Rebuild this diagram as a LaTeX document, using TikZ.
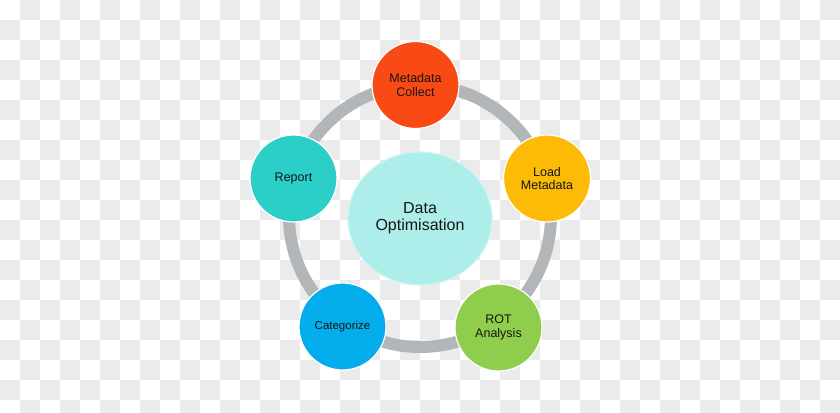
\documentclass[tikz,border=0pt]{standalone}
\usepackage{fontspec}
\setmainfont{Liberation Sans}
\usetikzlibrary{shapes.geometric}
\definecolor{chk}{HTML}{EBEBEB}
\definecolor{ringgray}{HTML}{B3B6B9}
\definecolor{cOrange}{HTML}{F94A16}
\definecolor{cAmber}{HTML}{FDBB08}
\definecolor{cGreen}{HTML}{8FCD4C}
\definecolor{cBlue}{HTML}{04ADEC}
\definecolor{cTeal}{HTML}{2BCFC8}
\definecolor{cCenter}{HTML}{ADEEEA}
\definecolor{txt}{HTML}{151515}
\tikzset{
  stepcircle/.style={circle, minimum size=87pt, inner sep=0pt, draw=white, line width=1.2pt,
    align=center, text=txt, font=\fontsize{12.5}{13.5}\selectfont},
  hubellipse/.style={ellipse, minimum width=144pt, minimum height=133pt, inner sep=0pt,
    fill=cCenter, draw=cCenter!60!white, line width=1.2pt, align=center, text=txt,
    font=\fontsize{16}{17}\selectfont},
  ringline/.style={draw=ringgray, line width=12pt}
}
\begin{document}
\begin{tikzpicture}[x=1pt,y=-1pt]
\useasboundingbox (0,0) rectangle (840,412);
\begin{scope}
\clip (0,0) rectangle (840,412);
\fill[white] (0,0) rectangle (840,412);
\foreach \j in {0,...,20}{
  \pgfmathtruncatemacro\s{mod(\j+1,2)}
  \foreach \k in {0,...,20}{
    \pgfmathtruncatemacro\i{2*\k+\s}
    \fill[chk] (20*\i,20*\j) rectangle ++(20,20);
  }
}
\end{scope}
\coordinate (ringc) at (420,216);
\draw[ringline] (ringc) circle[radius=131];
\node[hubellipse] (hub) at (420,218.5) {Data\\Optimisation};
\node[stepcircle, fill=cOrange] (collect) at (415.5,85) {Metadata\\Collect};
\node[stepcircle, fill=cAmber] (load) at (547,178.5) {Load\\Metadata};
\node[stepcircle, fill=cGreen] (rot) at (498.5,327.5) {ROT\\Analysis};
\node[stepcircle, fill=cBlue, font=\fontsize{11.5}{13}\selectfont] (categ) at (342.5,326.5) {Categorize};
\node[stepcircle, fill=cTeal] (report) at (293.5,178.5) {Report};
\end{tikzpicture}
\end{document}
